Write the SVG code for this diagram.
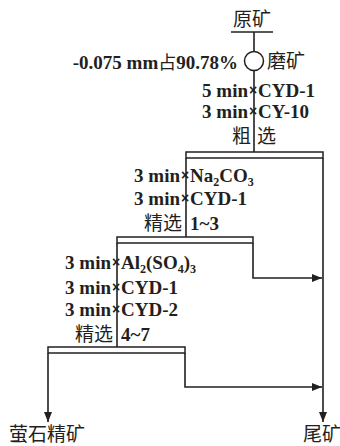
<svg xmlns="http://www.w3.org/2000/svg" width="340" height="446" viewBox="0 0 340 446">
<defs>
<marker id="arr" viewBox="0 0 10 8" refX="10" refY="4" markerWidth="11" markerHeight="8" markerUnits="userSpaceOnUse" orient="auto">
<path d="M0,0 L10,4 L0,8 Z" fill="#231f20"/>
</marker>
<style>
.ln{stroke:#231f20;stroke-width:1.6;fill:none}
.bx{stroke:#231f20;stroke-width:1.5;fill:#fff}
.lt{font-family:"Liberation Serif","Times New Roman",serif;font-weight:bold;font-size:19px;fill:#231f20}
.zh{font-family:"Noto Sans CJK SC","Noto Sans CJK JP",sans-serif;font-size:19px;fill:#231f20}
.x{font-family:"Liberation Sans",sans-serif;font-size:14px;font-weight:bold;fill:#231f20;text-anchor:middle}
.sub{font-size:12px}
.e{text-anchor:end}
</style>
</defs>
<g id="connectors">
<path class="ln" d="M231,32 H273"/>
<path class="ln" d="M254,32 V152"/>
<path class="ln" d="M186,158 V237"/>
<path class="ln" d="M323,158 V422" marker-end="url(#arr)"/>
<path class="ln" d="M117,243 V347"/>
<path class="ln" d="M253,243 V278 H322" marker-end="url(#arr)"/>
<path class="ln" d="M48,353 V422" marker-end="url(#arr)"/>
<path class="ln" d="M185,353 V387 H322" marker-end="url(#arr)"/>
</g>
<g id="feed"><text class="zh" x="252" y="26" text-anchor="middle">原矿</text></g>
<g id="grinding">
<circle class="bx" cx="254" cy="61" r="9.5"/>
<text class="lt e" x="238" y="69">-0.075 mm<tspan class="zh" style="font-weight:normal;font-size:18px">占</tspan>90.78%</text>
<text class="zh" x="267" y="68">磨矿</text>
</g>
<g id="rougher">
<text class="lt e" x="248" y="97">5 min</text><text class="x" x="253" y="95">×</text><text class="lt" x="258" y="97">CYD-1</text>
<text class="lt e" x="248" y="118">3 min</text><text class="x" x="253" y="116">×</text><text class="lt" x="258" y="118">CY-10</text>
<text class="zh" x="232" y="143">粗</text><text class="zh" x="257" y="143">选</text>
<rect class="bx" x="186" y="152" width="137" height="6"/>
</g>
<g id="cleaner1">
<text class="lt e" x="180" y="182">3 min</text><text class="x" x="185" y="180">×</text><text class="lt" x="190" y="182">Na<tspan class="sub" dy="4">2</tspan><tspan dy="-4">CO</tspan><tspan class="sub" dy="4">3</tspan></text>
<text class="lt e" x="180" y="205">3 min</text><text class="x" x="185" y="203">×</text><text class="lt" x="190" y="205">CYD-1</text>
<text class="zh e" x="182" y="230" font-size="18">精选</text><text class="lt" x="190" y="230">1~3</text>
<rect class="bx" x="117" y="237" width="136" height="6"/>
</g>
<g id="cleaner2">
<text class="lt e" x="111" y="269">3 min</text><text class="x" x="116" y="267">×</text><text class="lt" x="121" y="269">Al<tspan class="sub" dy="4">2</tspan><tspan dy="-4">(SO</tspan><tspan class="sub" dy="4">4</tspan><tspan dy="-4">)</tspan><tspan class="sub" dy="4">3</tspan></text>
<text class="lt e" x="111" y="294">3 min</text><text class="x" x="116" y="292">×</text><text class="lt" x="121" y="294">CYD-1</text>
<text class="lt e" x="111" y="316">3 min</text><text class="x" x="116" y="314">×</text><text class="lt" x="121" y="316">CYD-2</text>
<text class="zh e" x="113" y="341" font-size="18">精选</text><text class="lt" x="121" y="341">4~7</text>
<rect class="bx" x="48" y="347" width="137" height="6"/>
</g>
<g id="concentrate"><text class="zh" x="9" y="441">萤石精矿</text></g>
<g id="tailings"><text class="zh" x="303" y="441">尾矿</text></g>
</svg>
